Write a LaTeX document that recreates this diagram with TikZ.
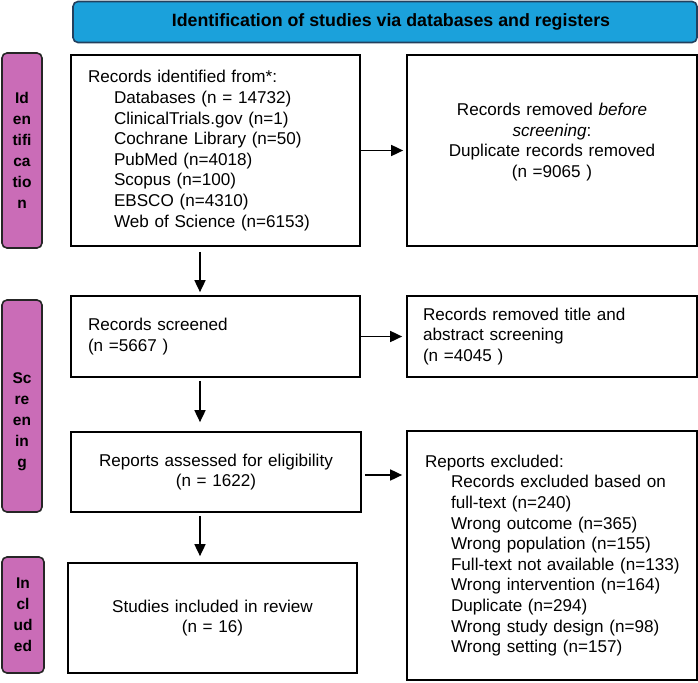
\documentclass[tikz,border=0pt]{standalone}
\usepackage{fontspec}
\setmainfont{Liberation Sans}
\usetikzlibrary{arrows.meta,positioning}
\definecolor{bannerblue}{HTML}{1BA1DB}
\definecolor{bannerline}{HTML}{23405E}
\definecolor{stagepink}{HTML}{CA6CB7}
\newcommand{\subline}{\hspace*{26pt}}
\newcommand{\exline}{\hspace*{40pt}}

\begin{document}
\begin{tikzpicture}[x=1pt,y=-1pt,
    font=\fontsize{17.1}{20.6}\selectfont,
    box/.style={draw, line width=1.7pt, inner ysep=0pt},
    stagebox/.style={draw=black!85, fill=stagepink, rounded corners=5pt,
      line width=1.6pt, inner sep=0pt, align=center,
      font=\fontsize{15.5}{21}\selectfont\bfseries},
    flow/.style={-{Triangle[length=12pt,width=11pt]}, line width=1.7pt}]
    \useasboundingbox (0,0) rectangle (698,682);

    % Banner
    \node[draw=bannerline, fill=bannerblue, rounded corners=5pt, line width=1.6pt,
      minimum width=624pt, minimum height=41pt,
      font=\fontsize{17.8}{21}\selectfont\bfseries] (banner) at (385,22)
      {\hspace*{12pt}Identification of studies via databases and registers};

    % Stage labels
    \node[stagebox, minimum width=40pt, minimum height=195pt] (stageid) at (22,150.5)
      {Id\\en\\tifi\\ca\\tio\\n};
    \node[stagebox, minimum width=40pt, minimum height=212pt] (stagesc) at (22,406)
      {\strut\\[7pt]Sc\\re\\en\\in\\g};
    \node[stagebox, minimum width=42pt, minimum height=116pt] (stagein) at (23,615)
      {In\\cl\\ud\\ed};

    % Left column
    \node[box, inner xsep=17pt, text width=255pt, minimum height=191pt, align=left]
      (identified) at (215.5,150.5)
      {Records identified from*:\\
       \subline Databases (n = 14732)\\
       \subline ClinicalTrials.gov (n=1)\\
       \subline Cochrane Library (n=50)\\
       \subline PubMed (n=4018)\\
       \subline Scopus (n=100)\\
       \subline EBSCO (n=4310)\\
       \subline Web of Science (n=6153)};
    \node[box, inner xsep=17pt, text width=255pt, minimum height=81pt, align=left]
      (screened) at (215.5,336.5)
      {Records screened\\(n =5667 )};
    \node[box, inner xsep=10pt, text width=270pt, minimum height=80pt, align=center]
      (assessed) at (216,472)
      {Reports assessed for eligibility\\(n = 1622)};
    \node[box, inner xsep=10pt, text width=269pt, minimum height=110pt, align=center]
      (included) at (212.5,618)
      {Studies included in review\\(n = 16)};

    % Right column
    \node[box, inner xsep=10pt, text width=270pt, minimum height=191pt, align=center]
      (removed) at (552,150.5)
      {Records removed \textit{before}\\\textit{screening}:\\Duplicate records removed\\(n =9065 )\\~};
    \node[box, inner xsep=16pt, text width=258pt, minimum height=81pt, align=left]
      (removedtitle) at (552,336.5)
      {Records removed title and\\abstract screening\\(n =4045 )};
    \node[box, inner xsep=4pt, text width=282pt, minimum height=249pt, align=left]
      (excluded) at (552,555.5)
      {\hspace*{14pt}Reports excluded:\\
       \exline Records excluded based on\\
       \exline full-text (n=240)\\
       \exline Wrong outcome (n=365)\\
       \exline Wrong population (n=155)\\
       \exline Full-text not available (n=133)\\
       \exline Wrong intervention (n=164)\\
       \exline Duplicate (n=294)\\
       \exline Wrong study design (n=98)\\
       \exline Wrong setting (n=157)};

    % Arrows
    \coordinate (spine) at (200,0);
    \draw[flow, shorten <=5pt, shorten >=3pt] (identified.south -| spine) -- (screened.north -| spine);
    \draw[flow, shorten <=3pt, shorten >=9pt] (screened.south -| spine) -- (assessed.north -| spine);
    \draw[flow, shorten <=3pt, shorten >=6pt] (assessed.south -| spine) -- (included.north -| spine);
    \draw[flow, shorten >=3pt] (identified.east) -- (removed.west |- identified.east);
    \draw[flow, shorten >=4pt] (screened.east) -- (removedtitle.west |- screened.east);
    \draw[flow, shorten <=3pt, shorten >=4pt] ([yshift=-3pt]assessed.east) -- ([yshift=-3pt]excluded.west |- assessed.east);
\end{tikzpicture}
\end{document}
